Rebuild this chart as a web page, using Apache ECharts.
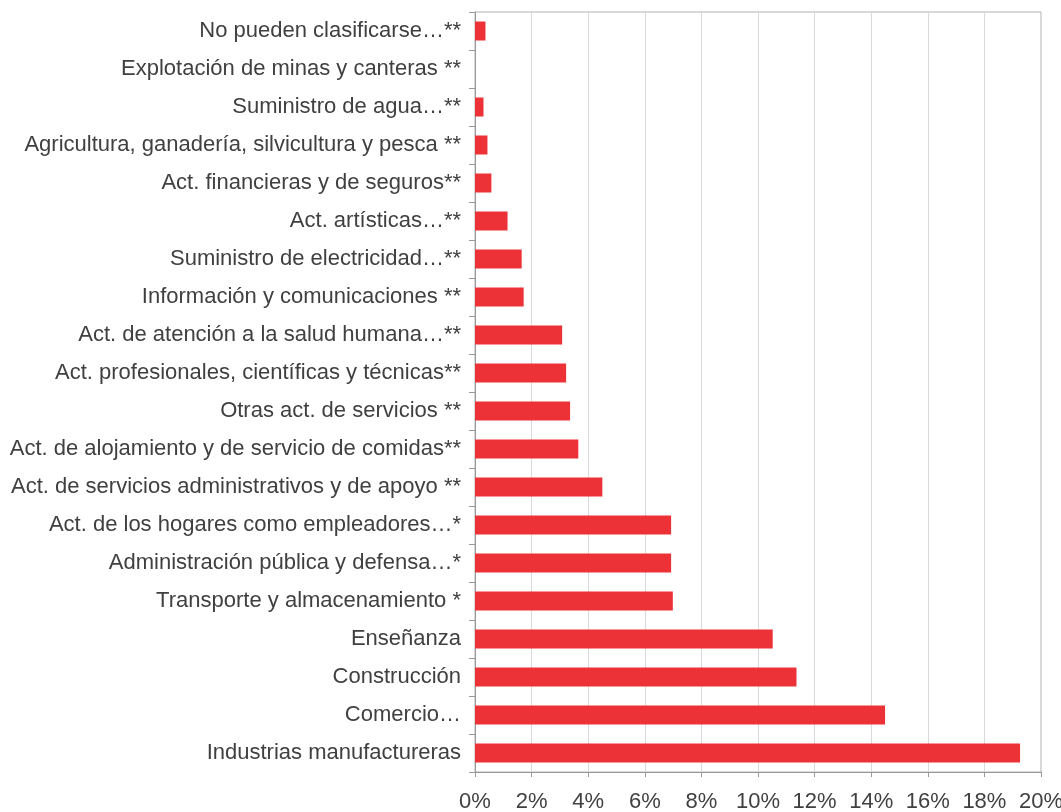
<!DOCTYPE html>
<html>
<head>
<meta charset="utf-8">
<script src="https://cdn.jsdelivr.net/npm/echarts@6/dist/echarts.min.js"></script>
<style>
  html, body { margin: 0; padding: 0; background: #fff; }
  #chart { width: 1061px; height: 812px; }
</style>
</head>
<body>
<div id="chart"></div>
<script>
// categorias de abajo hacia arriba
var sectores = [
    'Industrias manufactureras',
    'Comercio…',
    'Construcción',
    'Enseñanza',
    'Transporte y almacenamiento *',
    'Administración pública y defensa…*',
    'Act. de los hogares como empleadores…*',
    'Act. de servicios administrativos y de apoyo **',
    'Act. de alojamiento y de servicio de comidas**',
    'Otras act. de servicios **',
    'Act. profesionales, científicas y técnicas**',
    'Act. de atención a la salud humana…**',
    'Información y comunicaciones **',
    'Suministro de electricidad…**',
    'Act. artísticas…**',
    'Act. financieras y de seguros**',
    'Agricultura, ganadería, silvicultura y pesca **',
    'Suministro de agua…**',
    'Explotación de minas y canteras **',
    'No pueden clasificarse…**'
];
// porcentaje
var valores = [19.26, 14.49, 11.36, 10.52, 6.99, 6.93, 6.93, 4.5, 3.65, 3.36,
               3.22, 3.08, 1.72, 1.65, 1.15, 0.58, 0.44, 0.30, 0, 0.37];
var xTicks = { min: 0, max: 20, interval: 2 };

var myChart = echarts.init(document.getElementById('chart'));
var option = {
    animation: false,
    textStyle: { fontFamily: 'Liberation Sans, Arial, sans-serif' },
    grid: {
        left: 475, right: 20, top: 12, bottom: 40,
        outerBoundsMode: 'none',
        containLabel: false,
        show: true, borderColor: '#b3b3b3', borderWidth: 1
    },
    xAxis: {
        type: 'value',
        min: xTicks.min, max: xTicks.max, interval: xTicks.interval,
        axisLine: { show: true, lineStyle: { color: '#999', width: 1 } },
        axisTick: { show: true, length: 5, lineStyle: { color: '#999' } },
        axisLabel: {
            formatter: '{value}%', color: '#404040', fontSize: 22, margin: 19
        },
        splitLine: { show: true, lineStyle: { color: '#d9d9d9', width: 1 } }
    },
    yAxis: {
        type: 'category',
        data: sectores,
        axisLine: { show: true, lineStyle: { color: '#999', width: 1 } },
        axisTick: { show: true, length: 6, lineStyle: { color: '#999' } },
        axisLabel: { color: '#404040', fontSize: 22, margin: 14 },
        splitLine: { show: false }
    },
    series: [{
        type: 'bar',
        data: valores,
        barCategoryGap: '50%',
        itemStyle: { color: '#ED3237' }
    }]
};
myChart.setOption(option);
</script>
</body>
</html>
